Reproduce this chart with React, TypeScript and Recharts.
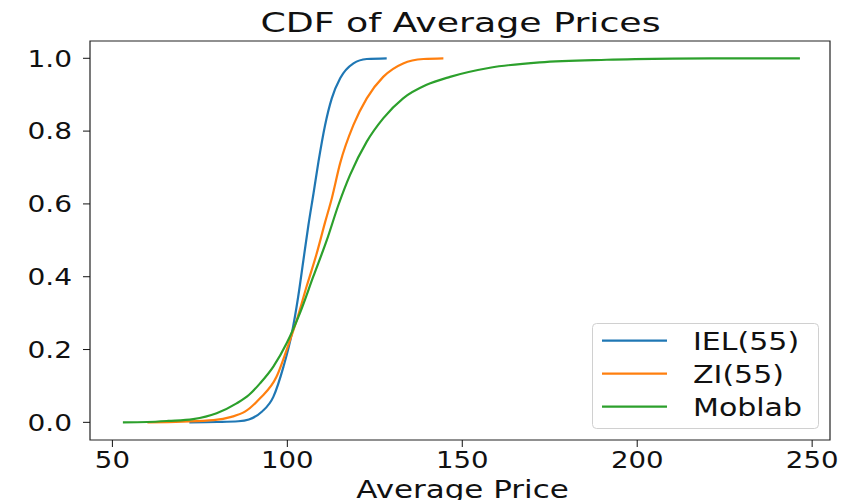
import React from 'react';
import { LineChart, Line, XAxis, YAxis, Legend, ReferenceArea } from 'recharts';

// empirical CDF samples, price -> cumulative share
const ielPrice = [72, 80, 86, 89, 92.7, 96, 98.9, 101.3, 103.1, 104.6, 106, 107.5, 108.9, 110.8, 112.7, 115.1, 118.9, 122.7, 128.4];
const ielCdf = [0, 0.001, 0.003, 0.008, 0.029, 0.07, 0.153, 0.245, 0.345, 0.446, 0.54, 0.63, 0.716, 0.817, 0.89, 0.945, 0.986, 0.998, 1.0];

const ziPrice = [60, 70, 78.9, 84, 88, 92.2, 96.9, 99.8, 102.7, 105.5, 108.4, 110.8, 112.7, 115.1, 118.9, 122.7, 127.4, 133.1, 138.9, 144.6];
const ziCdf = [0, 0.002, 0.006, 0.015, 0.03, 0.066, 0.125, 0.199, 0.281, 0.373, 0.464, 0.55, 0.615, 0.712, 0.817, 0.89, 0.949, 0.986, 0.998, 1.0];

const moblabPrice = [53, 60, 66, 73.1, 79.8, 85.5, 89, 92.2, 96, 99.8, 103.6, 107.4, 111.3, 114.6, 117.9, 122.7, 127.4, 133.1, 139.8, 146.5, 157.9, 172.2, 191.3, 210.2, 230, 246.5];
const moblabCdf = [0, 0.001, 0.004, 0.009, 0.025, 0.052, 0.075, 0.107, 0.153, 0.217, 0.3, 0.4, 0.501, 0.597, 0.679, 0.771, 0.835, 0.89, 0.927, 0.949, 0.974, 0.989, 0.996, 0.999, 1.0, 1.0];

const xTicks = [50, 100, 150, 200, 250];
const yTicks = [0, 0.2, 0.4, 0.6, 0.8, 1.0];

const series = [
  { name: 'IEL(55)', color: '#1f77b4', xs: ielPrice, ys: ielCdf },
  { name: 'ZI(55)', color: '#ff7f0e', xs: ziPrice, ys: ziCdf },
  { name: 'Moblab', color: '#2ca02c', xs: moblabPrice, ys: moblabCdf }
];

const X_DOMAIN: [number, number] = [43.6, 255.1];
const Y_DOMAIN: [number, number] = [-0.0485, 1.0475];
const FONT = '"DejaVu Sans", sans-serif';

const toRows = (xs: number[], ys: number[]) => xs.map((x, i) => ({ price: x, cdf: ys[i] }));

function XTick({ x, y, payload }: any) {
  return (
    <text transform={`translate(${x},${y + 17}) scale(1.2,1)`} textAnchor="middle" fontFamily={FONT} fontSize={23} fill="#111">
      {payload.value}
    </text>
  );
}

function YTick({ x, y, payload }: any) {
  return (
    <text transform={`translate(${x},${y + 8.3}) scale(1.22,1)`} textAnchor="end" fontFamily={FONT} fontSize={23} fill="#111">
      {Number(payload.value).toFixed(1)}
    </text>
  );
}

// legend keeps the plotting order of the series
function LegendBox() {
  return (
    <svg width={228} height={107} style={{ display: 'block' }}>
      <rect x={0.5} y={0.5} width={226} height={105} rx={4} fill="#fff" fillOpacity={0.8} stroke="#d0d0d0" />
      {series.map((s, i) => {
        const cy = 17.7 + i * 33;
        return (
          <g key={s.name}>
            <line x1={10} x2={75} y1={cy} y2={cy} stroke={s.color} strokeWidth={2.2} />
            <text transform={`translate(101,${cy + 9}) scale(1.2,1)`} fontFamily={FONT} fontSize={25} fill="#111">
              {s.name}
            </text>
          </g>
        );
      })}
    </svg>
  );
}

export default function App() {
  return (
    <div style={{ position: 'fixed', left: 0, top: 0, width: 857, height: 500, background: '#fff' }}>
      <LineChart width={857} height={500} margin={{ top: 41, right: 27, left: 10, bottom: 10 }}>
        <XAxis
          type="number"
          dataKey="price"
          domain={X_DOMAIN}
          ticks={xTicks}
          allowDataOverflow
          height={50}
          tickSize={7}
          tickMargin={4}
          axisLine={false}
          tickLine={{ stroke: '#111', strokeWidth: 1 }}
          tick={<XTick />}
        />
        <YAxis
          type="number"
          dataKey="cdf"
          domain={Y_DOMAIN}
          ticks={yTicks}
          allowDataOverflow
          width={80}
          tickSize={7}
          tickMargin={11}
          axisLine={false}
          tickLine={{ stroke: '#111', strokeWidth: 1 }}
          tick={<YTick />}
        />
        <ReferenceArea x1={X_DOMAIN[0]} x2={X_DOMAIN[1]} y1={Y_DOMAIN[0]} y2={Y_DOMAIN[1]} fill="none" stroke="#222" strokeWidth={1.2} />
        {series.map((s) => (
          <Line
            key={s.name}
            data={toRows(s.xs, s.ys)}
            dataKey="cdf"
            name={s.name}
            type="monotone"
            stroke={s.color}
            strokeWidth={2.2}
            dot={false}
            isAnimationActive={false}
          />
        ))}
        <Legend
          layout="horizontal"
          verticalAlign="middle"
          align="center"
          wrapperStyle={{ position: 'absolute', left: 592, top: 323, width: 228, height: 107 }}
          content={<LegendBox />}
        />
      </LineChart>
      <svg width={857} height={500} style={{ position: 'absolute', left: 0, top: 0, pointerEvents: 'none' }}>
        <text transform="translate(460.5,31.5) scale(1.37,1)" textAnchor="middle" fontFamily={FONT} fontSize={26.5} fill="#111">
          CDF of Average Prices
        </text>
        <text transform="translate(462.5,497.5) scale(1.29,1)" textAnchor="middle" fontFamily={FONT} fontSize={24} fill="#111">
          Average Price
        </text>
      </svg>
    </div>
  );
}
